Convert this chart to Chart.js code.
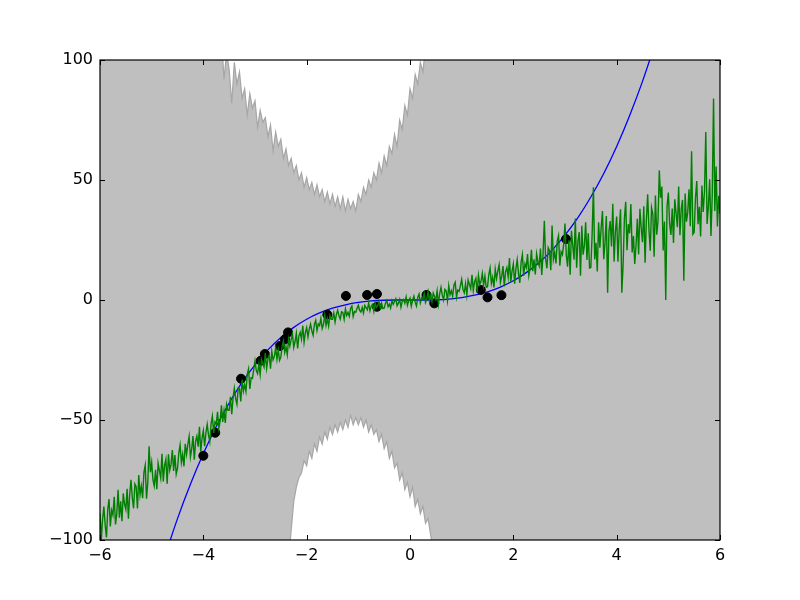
<!DOCTYPE html>
<html>
<head>
<meta charset="utf-8">
<script src="https://cdn.jsdelivr.net/npm/chart.js@4/dist/chart.umd.min.js"></script>
<style>
  html, body { margin: 0; padding: 0; background: #fff; }
  #wrap { width: 800px; height: 600px; }
</style>
</head>
<body>
<div id="wrap"><canvas id="chart" width="800" height="600"></canvas></div>
<script>
// --- data ---
const xTicks = [-6, -4, -2, 0, 2, 4, 6];
const yTicks = [-100, -50, 0, 50, 100];

// noisy green series, x from -6 to 6 every 0.025 (20 values per half unit)
const greenStart = -6, greenStep = 0.025;
const greenY = [
  -89, -100, -91.4, -86.1, -93.7, -98.9, -87.3, -82.9, -94.4, -87.6, -89.6, -82, -93.5, -89.1, -79.1, -90.7, -83.9, -92.2, -80.6, -85,
  -87.2, -78.7, -91.1, -81, -74.9, -82.4, -86.8, -76.7, -77.8, -86.9, -72.9, -81.2, -77.5, -82.6, -71.8, -68.9, -82.8, -75.9, -61, -71.8,
  -67.7, -75, -77.5, -70.8, -78.8, -68, -71.1, -74.2, -64.1, -75.6, -68.9, -66.4, -76.6, -64.3, -70.9, -68.5, -62.5, -71.2, -64.6, -72.6,
  -70.2, -63.8, -60.4, -67.7, -64.3, -69.3, -59.9, -64.3, -60.2, -56.8, -65.4, -62, -56.7, -66.5, -58.9, -56.7, -61.1, -52.8, -63.2, -57.4,
  -54.5, -60.9, -55.3, -51.8, -56.2, -59.1, -51.5, -48.4, -55.4, -50.8, -51.7, -46.6, -53.6, -50.5, -43.9, -50.8, -46.2, -51.2, -43.6, -46,
  -46, -40.3, -47.6, -40.9, -36.8, -41.1, -43.4, -36.7, -37, -42.3, -33.2, -38, -35.3, -38.1, -30.9, -28.7, -37.1, -32.4, -32.7, -29,
  -25.4, -29.4, -30.7, -26.7, -31.1, -24.8, -26.4, -28, -22.1, -28.5, -24.5, -22.9, -28.6, -21.4, -25, -23.5, -19.9, -24.7, -20.8, -25.2,
  -23.8, -19.4, -17.1, -21.9, -19.5, -22.8, -16.4, -19.2, -16.5, -14.1, -19.7, -17.3, -13.8, -20.2, -15, -13.5, -16.3, -10.7, -17.6, -13.6,
  -11.5, -15.4, -12.2, -10.1, -12.8, -14.7, -10.2, -8.5, -12.7, -10, -10.7, -7.7, -11.9, -10.2, -6.3, -10.6, -7.9, -10.9, -6.5, -8,
  -8, -5.4, -9.2, -6.1, -4.3, -6.6, -8, -4.9, -5.2, -8, -3.7, -6.4, -5.2, -6.8, -3.5, -2.5, -6.9, -4.8, -5.1, -3.5,
  -2.2, -4.3, -5, -3.1, -5.4, -2.3, -3.2, -4.1, -1.2, -4.5, -2.5, -1.8, -4.7, -1.2, -3.1, -2.4, -0.7, -3.2, -1.3, -3.6,
  -3.4, -1.3, -0.2, -2.8, -1.7, -3.4, -0.3, -1.8, -0.6, 0.5, -2.4, -1.3, 0.3, -3, -0.5, 0.2, -1.3, 1.3, -2.2, -0.3,
  0.8, -2.6, -0.1, 1.6, -0.9, -2.5, 1.1, 2.5, -1.2, 0.9, 0.4, 2.7, -1, 0.4, 3.5, -0.2, 2, -0.7, 2.9, 1.5,
  0.1, 3.8, -1.7, 2.7, 5.3, 1.9, 0, 4.4, 3.8, -0.3, 5.9, 2.2, 3.8, 1.5, 6.2, 7.4, 1.2, 4.2, 3.6, 5.9,
  8.6, 4.4, 3, 6.8, 2.1, 8.3, 6.5, 4.7, 10.5, 3.9, 7.6, 9, 3.2, 10.2, 6.4, 7.8, 11.1, 6.1, 9.9, 5.3,
  5.5, 10.6, 13.3, 6.9, 9.5, 5.2, 12.8, 8.9, 12.1, 14.7, 7.3, 9.9, 14.1, 5.7, 11.8, 13.5, 9.6, 17.5, 7.4, 12,
  15, 6.8, 13, 16.8, 11, 7.1, 15.7, 18.9, 10.1, 15.1, 13.5, 19.1, 10.3, 13.5, 20.9, 12, 17, 10.6, 19.2, 16,
  14.2, 21.4, 10.4, 19, 33, 17.2, 13.2, 21.8, 20.6, 12.4, 31, 16.9, 19.9, 15.2, 24.5, 26.8, 14.3, 20.1, 18.9, 23.3,
  31.9, 18.7, 13.9, 24.9, 10.5, 28.8, 22.8, 16.8, 34, 13.4, 24.5, 28.3, 10.1, 30.9, 18.9, 22.6, 32.4, 16.7, 27.8, 13.3,
  13.5, 27.3, 47, 16.9, 23.8, 11.9, 32.4, 21.8, 30.1, 37.1, 17, 24, 35, 3, 28.6, 32.9, 22.3, 40.1, 16, 28.4,
  34.8, 15.9, 29.6, 37.8, 3, 15, 34, 40.9, 20.7, 31.6, 27.8, 40, 19.8, 26.7, 15, 22.9, 33.8, 19, 38, 30,
  24.1, 39.1, 15.5, 33.5, 44, 29.3, 20.5, 38.5, 35.8, 18, 43.5, 27.2, 33, 54, 42.6, 47.3, 20.6, 32.7, 0, 38.9,
  44.8, 31.8, 27.1, 38.1, 23.8, 42, 36.1, 30.3, 47.3, 27, 38, 41.7, 8, 44.4, 32.6, 36.4, 46.1, 30.7, 62, 27.4,
  28.2, 42.4, 49.6, 31.6, 38.8, 26.5, 47.7, 36.7, 45.3, 70, 31.7, 38.9, 50.3, 26.7, 43.7, 84, 37.1, 55.6, 30.6, 43.4,
  36
];

// smooth blue curve
const blueX = [-4.75, -4.5, -4.25, -4, -3.75, -3.5, -3.25, -3, -2.75, -2.5, -2.25, -2, -1.75, -1.5, -1.25, -1, -0.75, -0.5, -0.25,
  0, 0.25, 0.5, 0.75, 1, 1.25, 1.5, 1.75, 2, 2.25, 2.5, 2.75, 3, 3.25, 3.5, 3.75, 4, 4.25, 4.5, 4.75];
const blueY = [-107.2, -91.1, -76.8, -64, -52.7, -42.9, -34.3, -27, -20.8, -15.6, -11.4, -8, -5.4, -3.4, -2, -1, -0.4, -0.1, 0,
  0, 0, 0.1, 0.4, 1, 2, 3.4, 5.4, 8, 11.4, 15.6, 20.8, 27, 34.3, 42.9, 52.7, 64, 76.8, 91.1, 107.2];

// black observations
const dotX = [-4.0, -3.77, -3.27, -2.81, -2.89, -2.52, -2.42, -2.36, -1.6, -1.24, -0.83, -0.64, -0.64, 0.32, 0.47, 1.37, 1.5, 1.77, 3.02];
const dotY = [-64.9, -55.3, -32.8, -22.5, -25.3, -19.2, -16.4, -13.5, -6.1, 1.7, 2.1, 2.5, -2.8, 2.1, -1.4, 4.2, 1.1, 2.0, 25.4];

// grey band: upper edge from -3.75 to 0.5, lower edge from -2.4 to 0.5, every 0.05
const upperStart = -3.75, lowerStart = -2.4, bandStep = 0.05;
const upperY = [
  115, 104, 110, 92, 103, 96, 82, 99, 90, 95,
  84, 88, 77, 86, 80, 83, 72, 79, 74, 76,
  68, 73, 62, 70, 64, 67, 59, 63, 56, 59,
  53, 56, 50, 53, 47, 51, 46, 49, 44, 48,
  43, 46, 41, 45, 40, 44, 39, 43, 38, 43,
  37, 42, 38, 41, 37, 44, 41, 47, 44, 50,
  47, 53, 50, 57, 53, 60, 56, 64, 61, 69,
  64, 75, 71, 81, 77, 88, 84, 94, 90, 99,
  95, 106, 103, 112, 115, 120
];
const lowerY = [
  -125, -108, -96, -84, -78, -74, -72, -67, -69, -63,
  -66, -60, -63, -57, -60, -55, -58, -53, -56, -52,
  -55, -51, -54, -50, -53, -48, -52, -49, -52, -49,
  -53, -50, -55, -52, -56, -54, -59, -56, -62, -59,
  -66, -63, -70, -68, -75, -72, -79, -76, -82, -78,
  -86, -83, -89, -86, -93, -91, -98, -104, -115
];

function grid(start, step, ys) {
  return ys.map((y, i) => ({ x: +(start + i * step).toFixed(3), y: y }));
}
const toPts = (xs, ys) => xs.map((x, i) => ({ x: x, y: ys[i] }));
const minus = v => String(v).replace('-', '\u2212');

const upperPts = [{ x: -6, y: 130 }].concat(grid(upperStart, bandStep, upperY), [{ x: 6, y: 130 }]);
const lowerPts = [{ x: -6, y: -130 }].concat(grid(lowerStart, bandStep, lowerY), [{ x: 6, y: -130 }]);

// frame + inward ticks on all four sides
const framePlugin = {
  id: 'frame',
  afterDraw(chart) {
    const { ctx, chartArea: a, scales } = chart;
    ctx.save();
    ctx.strokeStyle = '#000';
    ctx.lineWidth = 1.2;
    ctx.strokeRect(a.left, a.top, a.right - a.left, a.bottom - a.top);
    ctx.beginPath();
    xTicks.forEach(v => {
      const px = Math.round(scales.x.getPixelForValue(v)) + 0.5;
      ctx.moveTo(px, a.bottom); ctx.lineTo(px, a.bottom - 5);
      ctx.moveTo(px, a.top); ctx.lineTo(px, a.top + 5);
    });
    yTicks.forEach(v => {
      const py = Math.round(scales.y.getPixelForValue(v)) + 0.5;
      ctx.moveTo(a.left, py); ctx.lineTo(a.left + 5, py);
      ctx.moveTo(a.right, py); ctx.lineTo(a.right - 5, py);
    });
    ctx.lineWidth = 1;
    ctx.stroke();
    ctx.restore();
  }
};

Chart.defaults.font.family = "'DejaVu Sans', sans-serif";
Chart.defaults.font.size = 16;
Chart.defaults.color = '#000';

new Chart(document.getElementById('chart'), {
  type: 'line',
  data: {
    datasets: [
      { // green
        data: grid(greenStart, greenStep, greenY),
        borderColor: '#008000', borderWidth: 1.4, pointRadius: 0, fill: false, order: 0
      },
      { // dots
        data: toPts(dotX, dotY), showLine: false,
        pointRadius: 4.5, pointBackgroundColor: '#000', pointBorderColor: '#000', order: 1
      },
      { // blue
        data: toPts(blueX, blueY),
        borderColor: '#0000ff', borderWidth: 1.3, pointRadius: 0, fill: false,
        cubicInterpolationMode: 'monotone', order: 2
      },
      { // lower band edge, white below
        data: lowerPts,
        borderColor: '#a6a6a6', borderWidth: 1.2, pointRadius: 0,
        fill: 'start', backgroundColor: '#ffffff', order: 3
      },
      { // upper band edge, grey below
        data: upperPts,
        borderColor: '#a6a6a6', borderWidth: 1.2, pointRadius: 0,
        fill: 'start', backgroundColor: '#bfbfbf', order: 4
      }
    ]
  },
  options: {
    responsive: false,
    animation: false,
    devicePixelRatio: 1,
    layout: { padding: { top: 60, right: 80, left: 0, bottom: 0 } },
    plugins: { legend: { display: false }, tooltip: { enabled: false } },
    scales: {
      x: {
        type: 'linear', min: -6, max: 6,
        grid: { display: false, drawTicks: false },
        border: { display: false },
        afterBuildTicks: s => { s.ticks = xTicks.map(v => ({ value: v })); },
        ticks: { padding: 6, maxRotation: 0, callback: v => minus(v) },
        afterFit: s => { s.height = 60; }
      },
      y: {
        type: 'linear', min: -100, max: 100,
        grid: { display: false, drawTicks: false },
        border: { display: false },
        afterBuildTicks: s => { s.ticks = yTicks.map(v => ({ value: v })); },
        ticks: { padding: 7, callback: v => minus(v) },
        afterFit: s => { s.width = 100; }
      }
    }
  },
  plugins: [framePlugin]
});
</script>
</body>
</html>
